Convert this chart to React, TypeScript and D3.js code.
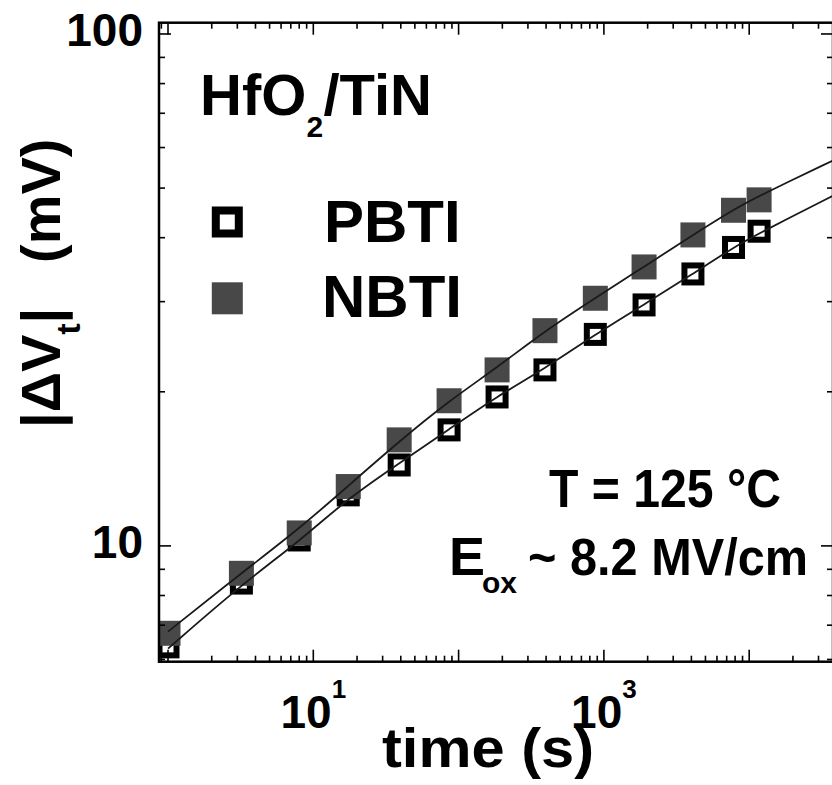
import React from 'react';
import * as d3 from 'd3';

// ---- data ----
const times = [1, 3.2, 8, 17.4, 39, 86, 184, 393, 873, 1890, 4100, 7800, 11700];
const nbti = [6.75, 8.84, 10.6, 13.06, 16.11, 19.21, 22.07, 26.33, 30.46, 35.07, 40.5, 45.25, 47.42];
const pbti = [6.35, 8.46, 10.27, 12.58, 14.39, 16.85, 19.54, 22.07, 25.89, 29.56, 33.98, 38.28, 41.18];

// fitted curves (lines drawn through the data, extended to the right edge)
const fitTimes = [1, 3.2, 8, 17.4, 39, 86, 184, 393, 873, 1890, 4100, 7800, 11700, 37700];
const nbtiFit = [6.8, 8.85, 10.8, 13.1, 16.0, 19.2, 22.3, 26.3, 30.5, 35.1, 40.5, 45.4, 48.3, 56.6];
const pbtiFit = [6.3, 8.4, 10.2, 12.4, 14.5, 16.9, 19.6, 22.2, 25.9, 29.6, 34.0, 38.3, 40.8, 48.3];

const xDomain = [0.867, 37740];
const yDomain = [5.94, 105.2];
const xTickLabels = [
  { v: 10, base: '10', sup: '1' },
  { v: 1000, base: '10', sup: '3' },
];
const yTickLabels = [
  { v: 10, label: '10' },
  { v: 100, label: '100' },
];
const seriesNames = ['PBTI', 'NBTI'];

const FONT = "'Liberation Sans', Arial, Helvetica, sans-serif";
const GRAY = '#484848';

export default function App() {
  const left = 159, right = 833, top = 22.7, bottom = 661.7;
  const x = d3.scaleLog().domain(xDomain).range([left, right]);
  const y = d3.scaleLog().domain(yDomain).range([bottom, top]);

  const isMajor = (v: number) => Math.abs(Math.log10(v) - Math.round(Math.log10(v))) < 1e-9;
  const xt = x.ticks();
  const yt = y.ticks();

  const mk = (vals: number[]) =>
    d3
      .line<number>()
      .x((_, i) => x(fitTimes[i]))
      .y((d) => y(d))
      .curve(d3.curveBasis)(vals) || '';
  const nbtiPath = mk(nbtiFit);
  const pbtiPath = mk(pbtiFit);

  const fillSize = 25;
  const openSize = 17;
  const openStroke = 6;

  return (
    <svg
      width={832}
      height={785}
      style={{ position: 'absolute', left: 0, top: 0, background: '#fff' }}
      fontFamily={FONT}
    >
      <defs>
        <clipPath id="plot">
          <rect x={left} y={top} width={right - left} height={bottom - top} />
        </clipPath>
      </defs>
      <rect x={0} y={0} width={832} height={785} fill="#fff" />

      <g clipPath="url(#plot)">
        {/* PBTI open squares */}
        {times.map((t, i) => (
          <rect
            key={'p' + i}
            x={x(t) - openSize / 2}
            y={y(pbti[i]) - openSize / 2}
            width={openSize}
            height={openSize}
            fill="#fff"
            stroke="#000"
            strokeWidth={openStroke}
          />
        ))}
        {/* NBTI filled squares */}
        {times.map((t, i) => (
          <rect
            key={'n' + i}
            x={x(t) - fillSize / 2}
            y={y(nbti[i]) - fillSize / 2}
            width={fillSize}
            height={fillSize}
            fill={GRAY}
          />
        ))}
        <path d={nbtiPath} fill="none" stroke="#1a1a1a" strokeWidth={1.8} />
        <path d={pbtiPath} fill="none" stroke="#1a1a1a" strokeWidth={1.8} />
      </g>

      {/* ticks */}
      <g stroke="#000" strokeWidth={1.6}>
        {xt.map((v, i) => {
          const L = isMajor(v) ? 12 : 6;
          const px = x(v);
          if (px < left + 1 || px > right - 1) return null;
          return (
            <g key={'xt' + i}>
              <line x1={px} x2={px} y1={bottom} y2={bottom - L} />
              <line x1={px} x2={px} y1={top} y2={top + L} />
            </g>
          );
        })}
        {yt.map((v, i) => {
          const L = isMajor(v) ? 12 : 6;
          const py = y(v);
          if (py < top + 1 || py > bottom - 1) return null;
          return (
            <g key={'yt' + i}>
              <line x1={left} x2={left + L} y1={py} y2={py} />
              <line x1={right} x2={right - L} y1={py} y2={py} />
            </g>
          );
        })}
      </g>

      {/* frame */}
      <rect
        x={left}
        y={top}
        width={right - left}
        height={bottom - top}
        fill="none"
        stroke="#000"
        strokeWidth={2.5}
      />

      {/* tick labels */}
      {yTickLabels.map((d) => (
        <text
          key={'yl' + d.v}
          x={143}
          y={y(d.v) + 12}
          textAnchor="end"
          fontSize={46}
          fontWeight="bold"
        >
          {d.label}
        </text>
      ))}
      {xTickLabels.map((d) => (
        <text
          key={'xl' + d.v}
          x={x(d.v)}
          y={728}
          textAnchor="middle"
          fontSize={46}
          fontWeight="bold"
        >
          {d.base}
          <tspan fontSize={26} dy={-30}>
            {d.sup}
          </tspan>
        </text>
      ))}

      {/* axis titles */}
      <text x={382} y={767} fontSize={56} fontWeight="bold" textLength={212} lengthAdjust="spacingAndGlyphs">
        time (s)
      </text>
      <text transform="translate(60,428) rotate(-90)" fontSize={56} fontWeight="bold">
        |ΔV
        <tspan fontSize={34} dy={20}>
          t
        </tspan>
        <tspan dy={-20}>|</tspan>
      </text>
      <text transform="translate(60,263) rotate(-90)" fontSize={56} fontWeight="bold">
        (mV)
      </text>

      {/* material label */}
      <text x={200} y={115} fontSize={58} fontWeight="bold">
        HfO
      </text>
      <text x={306.5} y={137} fontSize={30} fontWeight="bold">
        2
      </text>
      <text x={323.5} y={115} fontSize={58} fontWeight="bold">
        /TiN
      </text>

      {/* legend */}
      <rect x={227.3 - 11.5} y={222 - 11.5} width={23} height={23} fill="#fff" stroke="#000" strokeWidth={8} />
      <rect x={227.3 - 15.5} y={298.3 - 16} width={31} height={32} fill={GRAY} />
      <text x={324} y={241.7} fontSize={60} fontWeight="bold">
        {seriesNames[0]}
      </text>
      <text x={322} y={316.7} fontSize={60} fontWeight="bold">
        {seriesNames[1]}
      </text>

      {/* conditions */}
      <text x={549} y={506.7} fontSize={54} fontWeight="bold" textLength={232} lengthAdjust="spacingAndGlyphs">
        T = 125 °C
      </text>
      <text x={449} y={575} fontSize={54} fontWeight="bold">
        E
      </text>
      <text x={482} y={593} fontSize={30} fontWeight="bold">
        ox
      </text>
      <text x={528} y={575} fontSize={52} fontWeight="bold" textLength={280} lengthAdjust="spacingAndGlyphs">
        ~ 8.2 MV/cm
      </text>
    </svg>
  );
}
